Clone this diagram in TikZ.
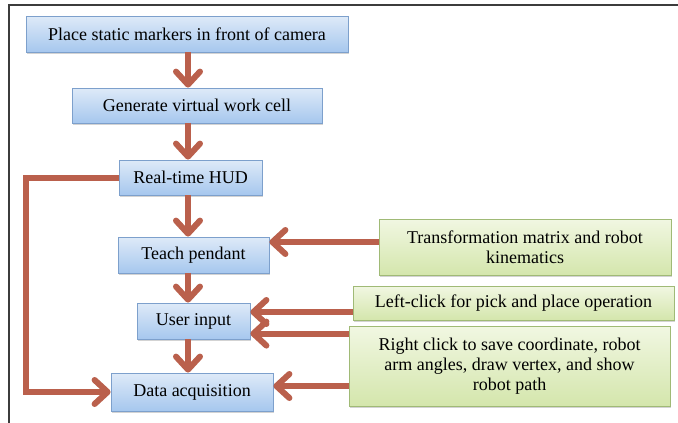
\documentclass[tikz,border=0pt]{standalone}
\usepackage{fontspec}
\setmainfont{Liberation Serif}
\newfontfamily\stepfont{Liberation Serif}
\usepackage{tikz}
\usetikzlibrary{arrows.meta}
\usetikzlibrary{shadows}

\definecolor{blueline}{RGB}{125,160,204}
\definecolor{bluetop}{RGB}{222,234,248}
\definecolor{bluebottom}{RGB}{166,199,238}
\definecolor{greenline}{RGB}{160,186,118}
\definecolor{greentop}{RGB}{241,247,226}
\definecolor{greenbottom}{RGB}{212,230,172}
\definecolor{arrowred}{RGB}{186,96,76}
\definecolor{frameline}{RGB}{60,60,60}

\begin{document}
\begin{tikzpicture}[x=1pt,y=-1pt,
    stepbox/.style={
        % The shape:
        rectangle,
        % The border
        draw=blueline,
        line width=0.8pt,
        % The filling
        top color=bluetop,
        bottom color=bluebottom,
        drop shadow={opacity=0.35, shadow xshift=1pt, shadow yshift=-1.5pt},
        % Font
        font=\stepfont\fontsize{18}{20}\selectfont
    },
    notebox/.style={
        stepbox,
        draw=greenline,
        top color=greentop,
        bottom color=greenbottom,
        align=center
    },
    flow/.style={
        line width=6pt,
        draw=arrowred,
        -{Straight Barb[length=13pt,width=24pt,round]}
    }]

    \useasboundingbox (0,0) rectangle (678,423);
    % the frame
    \draw [frameline, line width=1.6pt] (678,5) -- (9,5) -- (9,423);

    % steps
    \node [stepbox, minimum width=322pt, minimum height=36pt] (place) at (187,34) {Place static markers in front of camera};
    \node [stepbox, minimum width=250pt, minimum height=35pt] (generate) at (197,105.5) {Generate virtual work cell};
    \node [stepbox, minimum width=143pt, minimum height=35pt] (hud) at (190.5,177.5) {Real-time HUD};
    \node [stepbox, minimum width=151pt, minimum height=36pt] (teach) at (193.5,255) {Teach pendant};
    \node [stepbox, minimum width=113pt, minimum height=36pt] (user) at (193.5,321) {User input};
    \node [stepbox, minimum width=162pt, minimum height=38pt] (data) at (192,392) {Data acquisition};

    % inputs
    \node [notebox, minimum width=292pt, minimum height=56pt] (kinematics) at (525,247) {Transformation matrix and robot\\kinematics};
    \node [notebox, minimum width=321pt, minimum height=34pt] (leftclick) at (513.5,303) {Left-click for pick and place operation};
    \node [notebox, minimum width=321pt, minimum height=80pt] (rightclick) at (509.5,366) {Right click to save coordinate, robot\\arm angles, draw vertex, and show\\robot path};

    % main flow
    \coordinate (spine) at (188,0);
    \draw [flow] (place.south -| spine) -- (generate.north -| spine);
    \draw [flow] (generate.south -| spine) -- (hud.north -| spine);
    \draw [flow] (hud.south -| spine) -- (teach.north -| spine);
    \draw [flow] (teach.south -| spine) -- (user.north -| spine);
    \draw [flow] (user.south -| spine) -- (data.north -| spine);

    % side inputs
    \draw [flow] ([yshift=5pt]kinematics.west) -- ([yshift=5pt]kinematics.west -| teach.east);
    \draw [flow] ([yshift=-9pt]leftclick.west) -- ([yshift=-9pt]leftclick.west -| user.east);
    \draw [flow] ([yshift=-8pt]rightclick.north west) -- ([yshift=-8pt]rightclick.north west -| user.east);
    \draw [flow] ([yshift=-20pt]rightclick.west) -- ([yshift=-20pt]rightclick.west -| data.east);

    % loop back
    \draw [flow] (hud.west) -- ++(-93,0) |- (data.west);
\end{tikzpicture}
\end{document}
